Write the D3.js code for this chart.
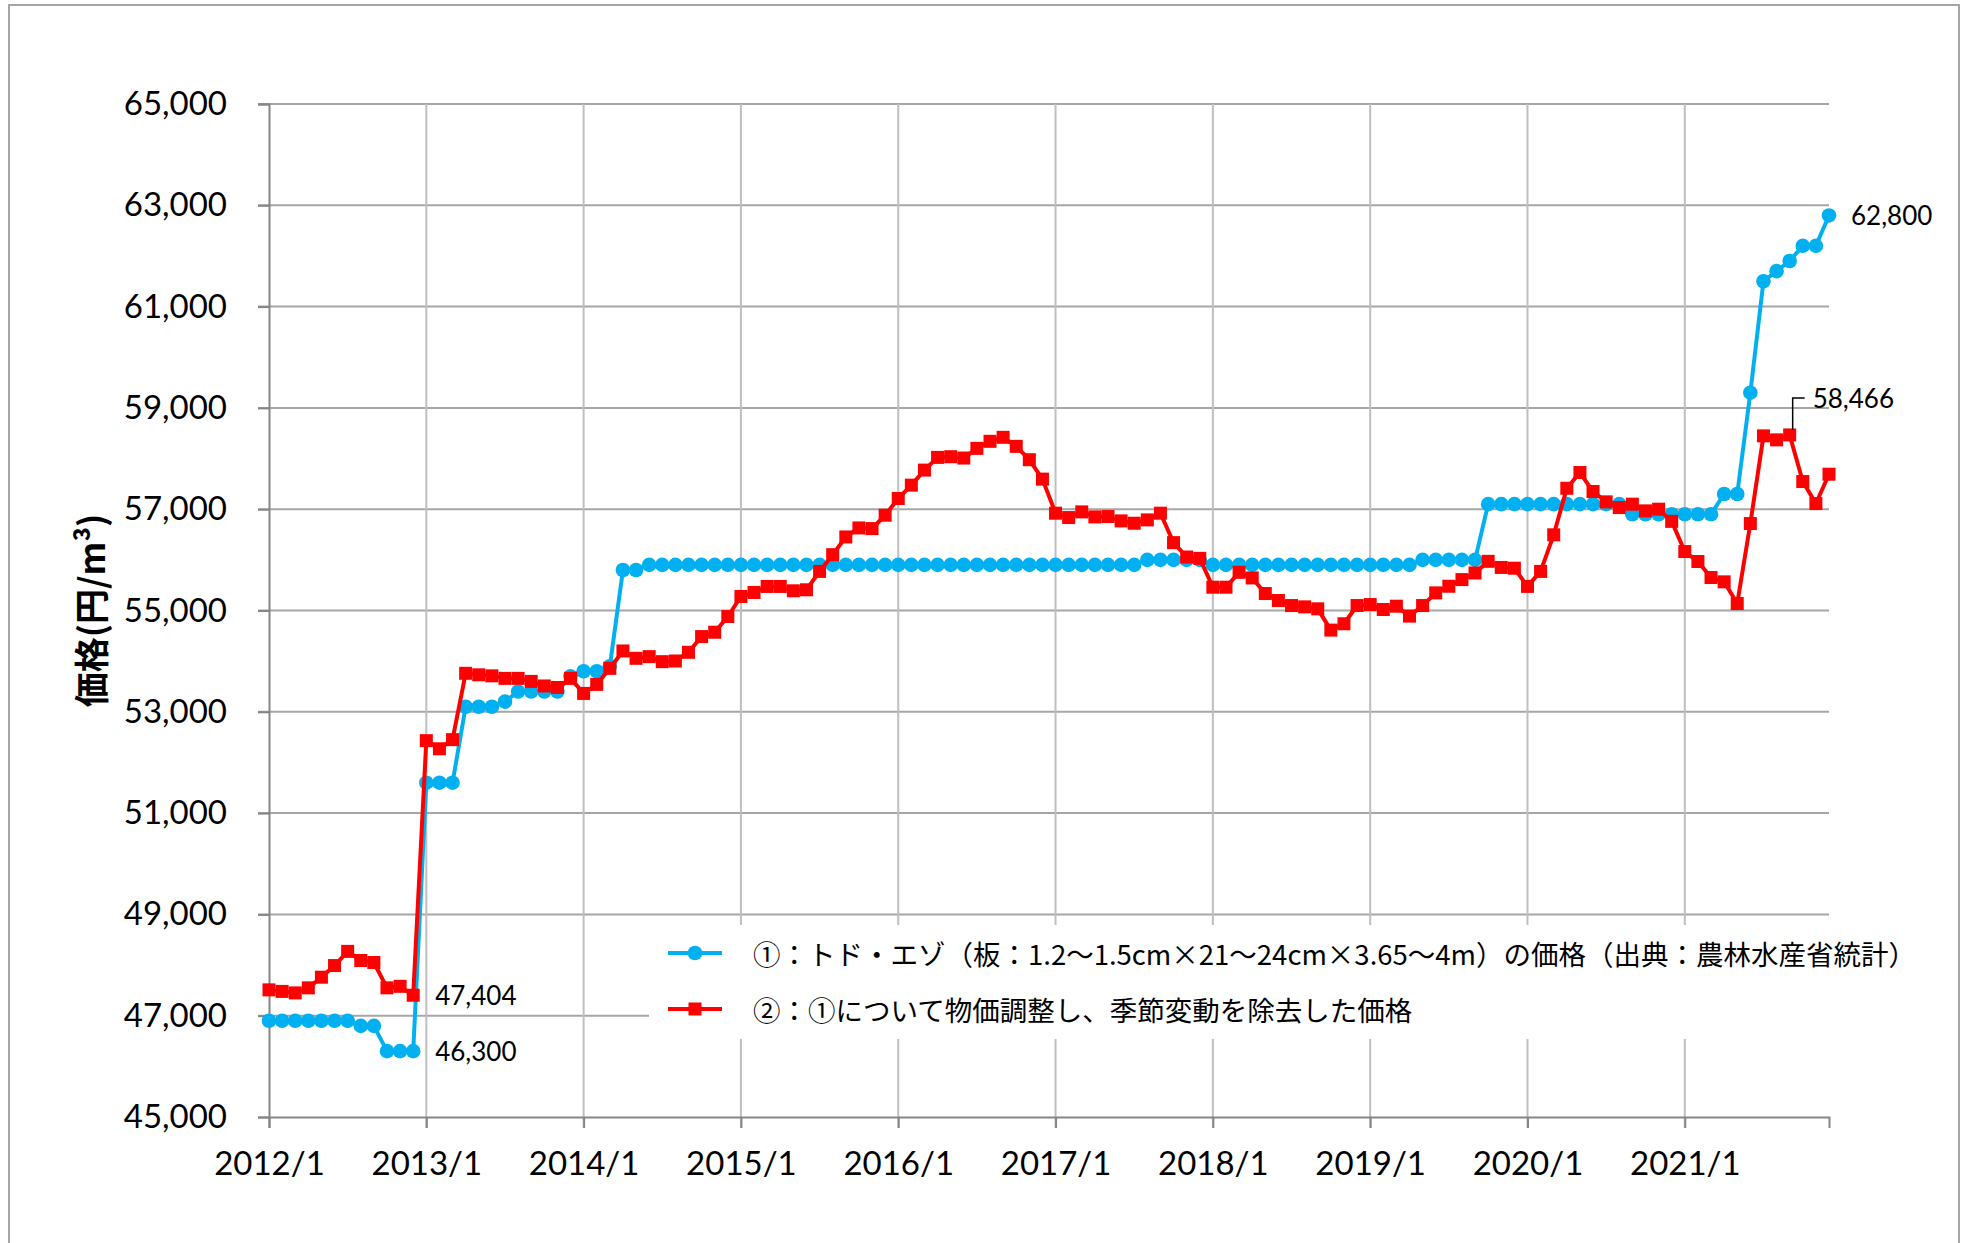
<!DOCTYPE html>
<html>
<head>
<meta charset="utf-8">
<script src="https://cdn.jsdelivr.net/npm/d3@7"></script>
<style>
  body { margin: 0; background: #fff; }
  .tick text { font-family: Lato, "Noto Sans", sans-serif; fill: #000; }
</style>
</head>
<body>
<div id="chart"></div>
<script>
//================ data ================
var years = [2012, 2013, 2014, 2015, 2016, 2017, 2018, 2019, 2020, 2021];
var yTicks = [45000, 47000, 49000, 51000, 53000, 55000, 57000, 59000, 61000, 63000, 65000];

// ① トド・エゾ price (monthly, 2012/1 - 2021/12)
var todoEzo = [
  46900, 46900, 46900, 46900, 46900, 46900, 46900, 46800, 46800, 46300, 46300, 46300,
  51600, 51600, 51600, 53100, 53100, 53100, 53200, 53400, 53400, 53400, 53400, 53700,
  53800, 53800, 53900, 55800, 55800, 55900, 55900, 55900, 55900, 55900, 55900, 55900,
  55900, 55900, 55900, 55900, 55900, 55900, 55900, 55900, 55900, 55900, 55900, 55900,
  55900, 55900, 55900, 55900, 55900, 55900, 55900, 55900, 55900, 55900, 55900, 55900,
  55900, 55900, 55900, 55900, 55900, 55900, 55900, 56000, 56000, 56000, 56000, 56000,
  55900, 55900, 55900, 55900, 55900, 55900, 55900, 55900, 55900, 55900, 55900, 55900,
  55900, 55900, 55900, 55900, 56000, 56000, 56000, 56000, 56000, 57100, 57100, 57100,
  57100, 57100, 57100, 57100, 57100, 57100, 57100, 57100, 56900, 56900, 56900, 56900,
  56900, 56900, 56900, 57300, 57300, 59300, 61500, 61700, 61900, 62200, 62200, 62800
];

// ② price-adjusted, seasonally adjusted
var adjusted = [
  47510, 47480, 47450, 47550, 47760, 47990, 48270, 48090, 48050, 47550, 47580, 47404,
  52430, 52270, 52450, 53760, 53730, 53710, 53660, 53660, 53600, 53510, 53480, 53660,
  53363, 53541, 53858, 54201, 54056, 54089, 53990, 54003, 54175, 54485, 54571, 54881,
  55277, 55356, 55475, 55475, 55389, 55409, 55772, 56102, 56452, 56630, 56617, 56881,
  57211, 57475, 57772, 58023, 58036, 58010, 58201, 58340, 58419, 58241, 57977, 57594,
  56921, 56835, 56947, 56848, 56855, 56769, 56723, 56789, 56921, 56340, 56056, 56030,
  55460, 55460, 55754, 55643, 55335, 55197, 55098, 55072, 55033, 54613, 54738, 55098,
  55118, 55020, 55085, 54889, 55098, 55348, 55479, 55610, 55741, 55971, 55850, 55835,
  55476, 55772, 56494, 57413, 57724, 57349, 57145, 57033, 57099, 56967, 57000, 56760,
  56164, 55967, 55651, 55566, 55138, 56717, 58448, 58369, 58466, 57546, 57112, 57691
];

var seriesNames = [
  "①：トド・エゾ（板：1.2〜1.5cm×21〜24cm×3.65〜4m）の価格（出典：農林水産省統計）",
  "②：①について物価調整し、季節変動を除去した価格"
];

// month labels "2012/1" ...
var months = [];
years.forEach(function(y) {
  for (var m = 1; m <= 12; m++) months.push(y + "/" + m);
});

// point labels: which series, which month, text
var pointLabels = [
  { series: "adjusted", month: "2012/12", text: "47,404" },
  { series: "todoEzo", month: "2012/12", text: "46,300" },
  { series: "todoEzo", month: "2021/12", text: "62,800" }
];
var leaderLabel = { series: "adjusted", month: "2021/9", text: "58,466" };

//================ chart ================
var W = 1966, H = 1243;
var plotL = 269, plotR = 1829, plotT = 104, plotB = 1117;
var blue = "#00B0F0", red = "#FF0000";

var svg = d3.select("#chart").append("svg")
    .attr("width", W)
    .attr("height", H)
    .style("font-family", "Lato, 'Noto Sans', sans-serif");

svg.append("rect")
    .attr("x", 9).attr("y", 5)
    .attr("width", 1950).attr("height", 1250)
    .attr("fill", "#fff")
    .attr("stroke", "#A6A6A6")
    .attr("stroke-width", 2);

var x = d3.scalePoint()
    .domain(months)
    .range([plotL, plotR]);

var y = d3.scaleLinear()
    .domain([45000, 65000])
    .range([plotB, plotT]);

// horizontal gridlines
svg.append("g")
    .selectAll("line")
    .data(yTicks.slice(1))
    .enter().append("line")
    .attr("x1", plotL - 11).attr("x2", plotR)
    .attr("y1", function(d) { return y(d); })
    .attr("y2", function(d) { return y(d); })
    .attr("stroke", "#A6A6A6")
    .attr("stroke-width", 2);

// vertical gridlines (each January)
var janTicks = years.map(function(y) { return y + "/1"; });
svg.append("g")
    .selectAll("line")
    .data(janTicks.slice(1))
    .enter().append("line")
    .attr("x1", function(d) { return x(d); })
    .attr("x2", function(d) { return x(d); })
    .attr("y1", plotT).attr("y2", plotB + 11)
    .attr("stroke", "#BFBFBF")
    .attr("stroke-width", 2);

// y axis
var yAxis = d3.axisLeft(y)
    .tickValues(yTicks)
    .tickFormat(d3.format(","))
    .tickSize(11)
    .tickPadding(31);

var gy = svg.append("g")
    .attr("transform", "translate(" + plotL + ",0)")
    .call(yAxis);
gy.select(".domain").attr("stroke", "#868686").attr("stroke-width", 2);
gy.selectAll(".tick line").attr("stroke", "#868686").attr("stroke-width", 2);
gy.selectAll(".tick text").attr("font-size", 33);

// x axis
var xAxis = d3.axisBottom(x)
    .tickValues(janTicks)
    .tickSize(11);

var gx = svg.append("g")
    .attr("transform", "translate(0," + plotB + ")")
    .call(xAxis);
gx.select(".domain").attr("stroke", "#868686").attr("stroke-width", 2);
gx.selectAll(".tick line").attr("stroke", "#868686").attr("stroke-width", 2);
gx.selectAll(".tick text")
    .attr("font-size", 33)
    .attr("y", 58)
    .attr("dy", 0);

// y axis title
svg.append("text")
    .attr("transform", "translate(89," + ((plotT + plotB) / 2) + ") rotate(-90)")
    .attr("text-anchor", "middle")
    .attr("dominant-baseline", "central")
    .attr("font-family", "'Noto Sans CJK JP', sans-serif")
    .attr("font-weight", "bold")
    .attr("font-size", 35)
    .text("価格(円/m³)");

// legend box (covers gridlines)
svg.append("rect")
    .attr("x", 649).attr("y", 925)
    .attr("width", 1262).attr("height", 114)
    .attr("fill", "#fff");

//================ series ================
var line = d3.line()
    .x(function(d, i) { return x(months[i]); })
    .y(function(d) { return y(d); });

svg.append("path")
    .datum(todoEzo)
    .attr("d", line)
    .attr("fill", "none")
    .attr("stroke", blue)
    .attr("stroke-width", 4)
    .attr("stroke-linejoin", "round");

svg.append("g")
    .selectAll("circle")
    .data(todoEzo)
    .enter().append("circle")
    .attr("cx", function(d, i) { return x(months[i]); })
    .attr("cy", function(d) { return y(d); })
    .attr("r", 7.3)
    .attr("fill", blue);

svg.append("path")
    .datum(adjusted)
    .attr("d", line)
    .attr("fill", "none")
    .attr("stroke", red)
    .attr("stroke-width", 4)
    .attr("stroke-linejoin", "round");

svg.append("g")
    .selectAll("rect")
    .data(adjusted)
    .enter().append("rect")
    .attr("x", function(d, i) { return x(months[i]) - 6.5; })
    .attr("y", function(d) { return y(d) - 6.5; })
    .attr("width", 13)
    .attr("height", 13)
    .attr("fill", red);

//================ labels ================
var seriesData = { todoEzo: todoEzo, adjusted: adjusted };

svg.append("g")
    .selectAll("text")
    .data(pointLabels)
    .enter().append("text")
    .attr("x", function(d) { return x(d.month) + 22; })
    .attr("y", function(d) { return y(seriesData[d.series][months.indexOf(d.month)]); })
    .attr("dominant-baseline", "central")
    .attr("font-size", 26)
    .text(function(d) { return d.text; });

// leader-line label
var lx = x(leaderLabel.month),
    ly = y(seriesData[leaderLabel.series][months.indexOf(leaderLabel.month)]);
svg.append("path")
    .attr("d", "M" + (lx + 3) + "," + (ly - 5) + "V" + (ly - 37) + "H" + (lx + 15))
    .attr("fill", "none")
    .attr("stroke", "#000")
    .attr("stroke-width", 1.5);
svg.append("text")
    .attr("x", lx + 23)
    .attr("y", ly - 37)
    .attr("dominant-baseline", "central")
    .attr("font-size", 26)
    .text(leaderLabel.text);

//================ legend ================
var legend = svg.append("g")
    .attr("font-family", "'Noto Sans CJK JP', sans-serif")
    .attr("font-size", 27.5);

var legendY = [953, 1009];

legend.selectAll("line")
    .data(seriesNames)
    .enter().append("line")
    .attr("x1", 668).attr("x2", 722)
    .attr("y1", function(d, i) { return legendY[i]; })
    .attr("y2", function(d, i) { return legendY[i]; })
    .attr("stroke", function(d, i) { return i === 0 ? blue : red; })
    .attr("stroke-width", 4);

legend.append("circle")
    .attr("cx", 695).attr("cy", legendY[0])
    .attr("r", 7.3)
    .attr("fill", blue);

legend.append("rect")
    .attr("x", 688.5).attr("y", legendY[1] - 6.5)
    .attr("width", 13).attr("height", 13)
    .attr("fill", red);

legend.selectAll("text")
    .data(seriesNames)
    .enter().append("text")
    .attr("x", 753)
    .attr("y", function(d, i) { return legendY[i]; })
    .attr("dominant-baseline", "central")
    .text(function(d) { return d; });
</script>
</body>
</html>
